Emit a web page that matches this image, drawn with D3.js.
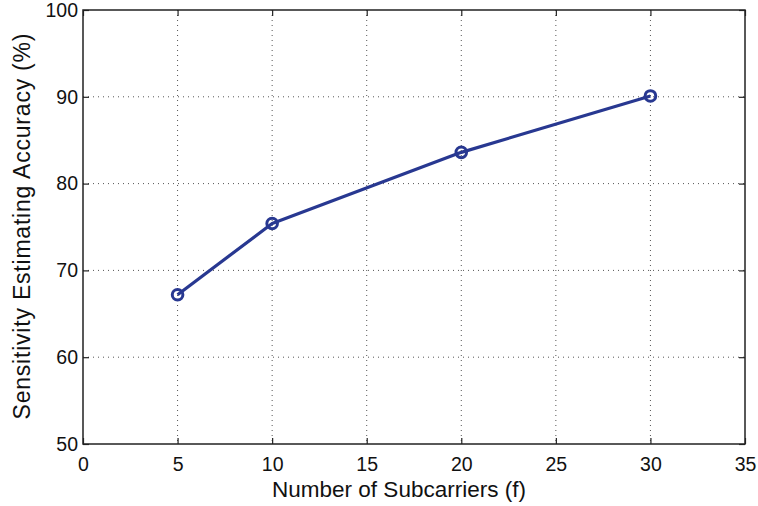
<!DOCTYPE html>
<html><head><meta charset="utf-8">
<script src="https://cdn.jsdelivr.net/npm/d3@7"></script>
<style>body{margin:0;background:#fff}text{font-family:"Liberation Sans",Arial,sans-serif}</style>
</head><body>
<svg id="c" width="758" height="506"></svg>
<script>
const subcarriers = [5, 10, 20, 30];
const accuracy = [67.2, 75.4, 83.6, 90.1];
const xTicks = [0, 5, 10, 15, 20, 25, 30, 35];
const yTicks = [50, 60, 70, 80, 90, 100];

const svg = d3.select("#c");
const L = 83, R = 745, T = 10, B = 444;
const x = d3.scaleLinear().domain([0, 35]).range([L, R]);
const y = d3.scaleLinear().domain([50, 100]).range([B, T]);

// grid
const g = svg.append("g");
g.selectAll(".gx").data(xTicks.slice(1, -1)).join("line")
  .attr("x1", d => x(d)).attr("x2", d => x(d)).attr("y1", T).attr("y2", B)
  .attr("stroke", "#555").attr("stroke-width", 1).attr("stroke-dasharray", "1,4");
g.selectAll(".gy").data(yTicks.slice(1, -1)).join("line")
  .attr("y1", d => y(d)).attr("y2", d => y(d)).attr("x1", L).attr("x2", R)
  .attr("stroke", "#555").attr("stroke-width", 1).attr("stroke-dasharray", "1,4");

// axes
const tl = -6;
svg.append("g").attr("transform", `translate(0,${B})`)
  .call(d3.axisBottom(x).tickValues(xTicks).tickSize(tl).tickPadding(13).tickSizeOuter(0))
  .call(a => { a.select(".domain").remove(); a.selectAll("text").attr("font-size", 19.5).attr("fill", "#111"); });
svg.append("g").attr("transform", `translate(0,${T})`)
  .call(d3.axisTop(x).tickValues(xTicks).tickSize(tl).tickFormat("").tickSizeOuter(0))
  .call(a => a.select(".domain").remove());
svg.append("g").attr("transform", `translate(${L},0)`)
  .call(d3.axisLeft(y).tickValues(yTicks).tickSize(tl).tickPadding(11).tickSizeOuter(0))
  .call(a => { a.select(".domain").remove(); a.selectAll("text").attr("font-size", 19.5).attr("fill", "#111").attr("x", -5); });
svg.append("g").attr("transform", `translate(${R},0)`)
  .call(d3.axisRight(y).tickValues(yTicks).tickSize(tl).tickFormat("").tickSizeOuter(0))
  .call(a => a.select(".domain").remove());
svg.selectAll(".tick line").attr("stroke", "#222").attr("stroke-width", 1.2);

svg.append("rect").attr("x", L).attr("y", T).attr("width", R - L).attr("height", B - T)
  .attr("fill", "none").attr("stroke", "#222").attr("stroke-width", 1.5);

// line
const data = subcarriers.map((s, i) => ({ s, a: accuracy[i] }));
const col = "#283891";
svg.append("path").datum(data)
  .attr("d", d3.line().x(d => x(d.s)).y(d => y(d.a)))
  .attr("fill", "none").attr("stroke", col).attr("stroke-width", 3.2).attr("stroke-linejoin", "round");
svg.selectAll(".m").data(data).join("circle")
  .attr("cx", d => x(d.s)).attr("cy", d => y(d.a)).attr("r", 5.3)
  .attr("fill", "none").attr("stroke", col).attr("stroke-width", 3);

// labels
svg.append("text").attr("x", 399).attr("y", 497).attr("text-anchor", "middle")
  .attr("font-size", 22.5).attr("fill", "#111").text("Number of Subcarriers (f)");
svg.append("text").attr("transform", `translate(30,226.5) rotate(-90)`).attr("text-anchor", "middle")
  .attr("font-size", 23).attr("fill", "#111")
  .attr("textLength", 386).attr("lengthAdjust", "spacing")
  .text("Sensitivity Estimating Accuracy (%)");
</script>
</body></html>
